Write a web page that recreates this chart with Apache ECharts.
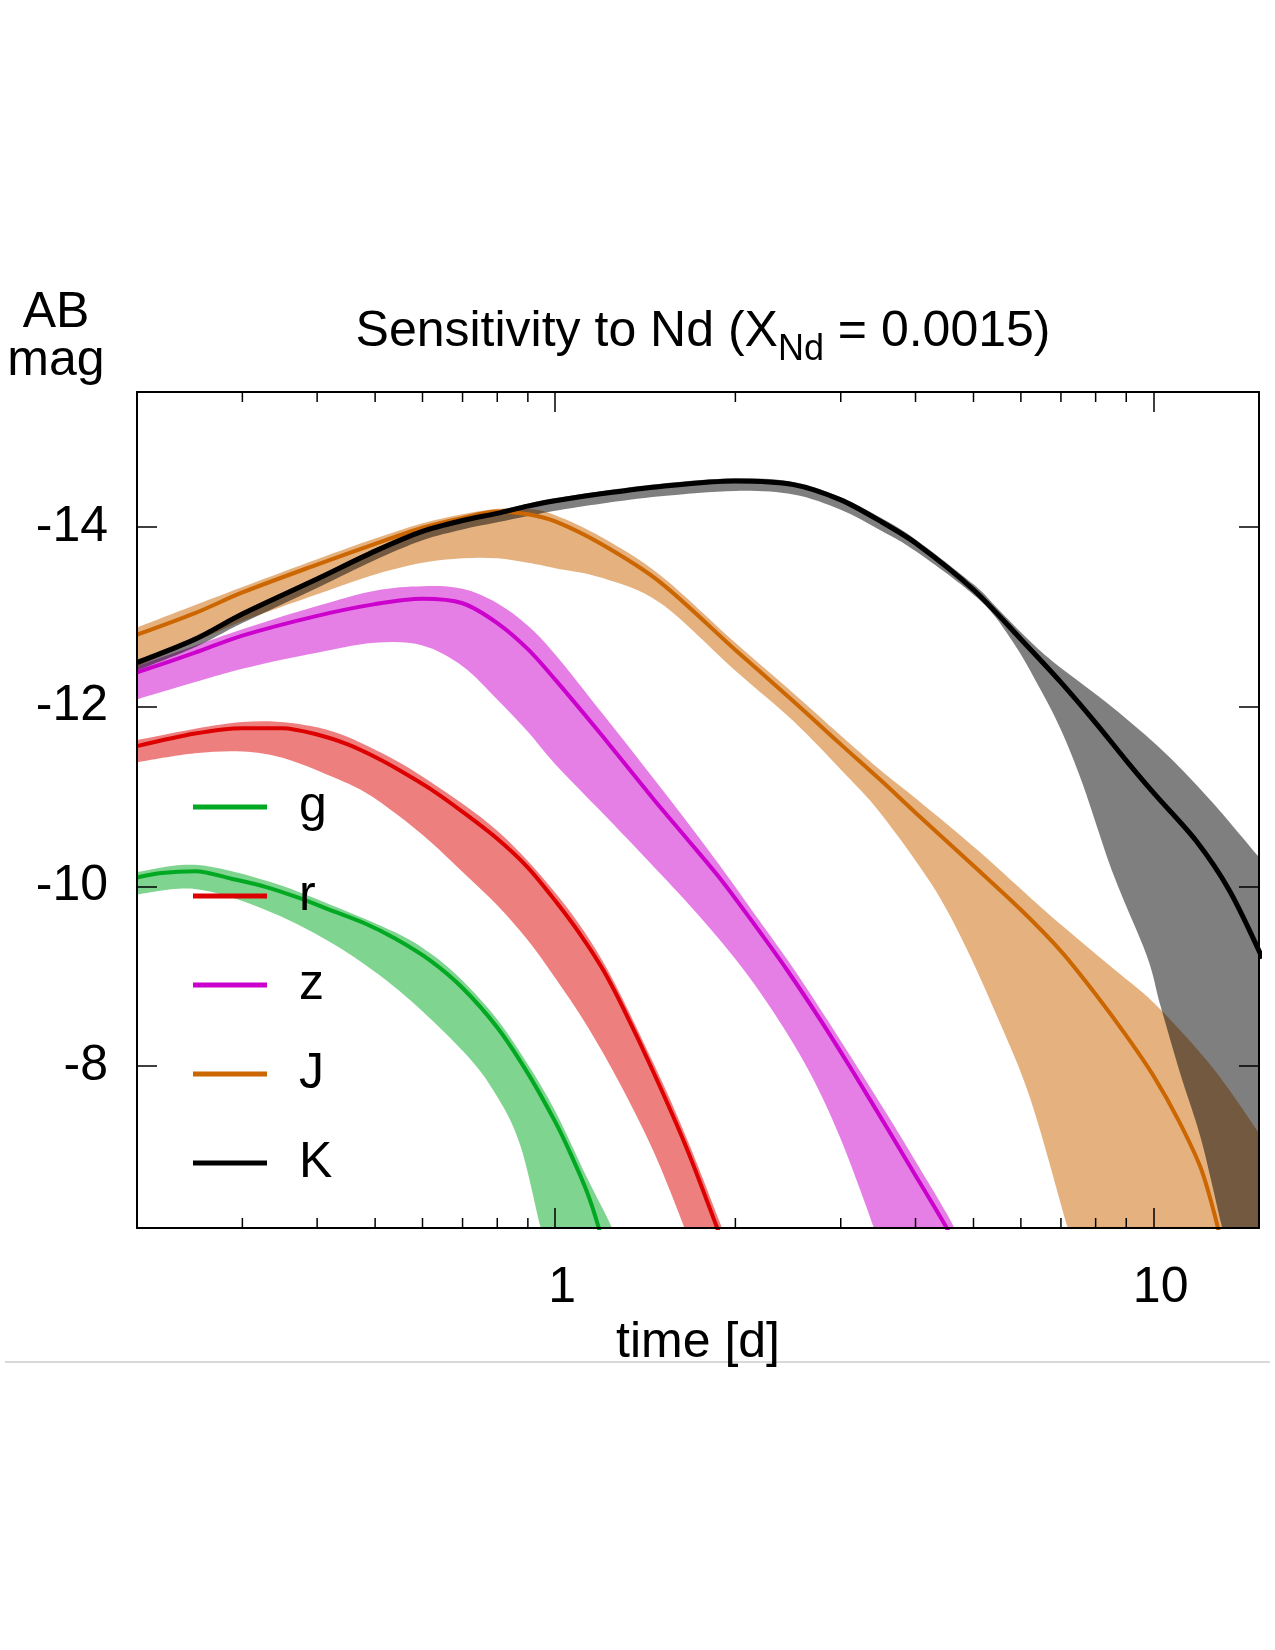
<!DOCTYPE html>
<html>
<head>
<meta charset="utf-8">
<script src="https://cdn.jsdelivr.net/npm/echarts@6/dist/echarts.min.js"></script>
<style>
  html, body { margin: 0; padding: 0; background: #fff; }
  #main { width: 1275px; height: 1650px; }
</style>
</head>
<body>
<div id="main"></div>
<script>
// axis ranges
var T_MIN = 0.2, T_MAX = 15;
var MAG_TOP = -15.5, MAG_BOTTOM = -6.2;
var xLabels = [1, 10];
var minorTicks = [0.3, 0.4, 0.5, 0.6, 0.7, 0.8, 0.9, 2, 3, 4, 5, 6, 7, 8, 9];

// [time (d), AB mag] : mid = model line, hi/lo = edges of the band
var gMid = [[0.2,-10.1],[0.22,-10.15],[0.25,-10.17],[0.29,-10.08],[0.33,-9.99],[0.37,-9.88],[0.42,-9.74],[0.48,-9.59],[0.54,-9.42],[0.62,-9.17],[0.7,-8.87],[0.8,-8.43],[0.9,-7.92],[1.0,-7.38],[1.06,-7.03],[1.13,-6.6],[1.18,-6.22],[1.22,-5.85]];
var gHi = [[0.2,-10.16],[0.25,-10.24],[0.33,-10.06],[0.42,-9.8],[0.54,-9.49],[0.62,-9.25],[0.7,-8.95],[0.8,-8.52],[0.9,-8.02],[1.0,-7.5],[1.13,-6.76],[1.24,-6.22],[1.28,-5.9]];
var gLo = [[0.2,-9.91],[0.25,-9.97],[0.325,-9.75],[0.421,-9.38],[0.544,-8.86],[0.703,-8.16],[0.8,-7.66],[0.874,-7.12],[0.944,-6.22],[0.98,-5.8]];

var rMid = [[0.2,-11.56],[0.25,-11.7],[0.3,-11.76],[0.35,-11.76],[0.4,-11.69],[0.45,-11.58],[0.5,-11.44],[0.55,-11.29],[0.62,-11.08],[0.7,-10.83],[0.8,-10.53],[0.9,-10.21],[1.0,-9.84],[1.1,-9.47],[1.2,-9.08],[1.3,-8.64],[1.46,-7.93],[1.66,-7.08],[1.86,-6.22],[1.95,-5.85]];
var rHi = [[0.2,-11.63],[0.3,-11.83],[0.4,-11.77],[0.5,-11.52],[0.62,-11.16],[0.8,-10.62],[1.0,-9.93],[1.2,-9.17],[1.46,-8.03],[1.66,-7.19],[1.9,-6.2],[2.0,-5.8]];
var rLo = [[0.2,-11.38],[0.25,-11.48],[0.3,-11.5],[0.35,-11.43],[0.42,-11.23],[0.48,-11.05],[0.544,-10.8],[0.618,-10.5],[0.703,-10.15],[0.8,-9.79],[0.9,-9.4],[1.0,-8.98],[1.13,-8.45],[1.284,-7.8],[1.46,-7.05],[1.64,-6.22],[1.75,-5.7]];

var zMid = [[0.2,-12.38],[0.25,-12.6],[0.3,-12.79],[0.4,-13.01],[0.5,-13.14],[0.6,-13.2],[0.7,-13.15],[0.8,-12.93],[0.9,-12.64],[1.0,-12.3],[1.2,-11.67],[1.46,-10.97],[1.66,-10.53],[1.89,-10.08],[2.15,-9.58],[2.44,-9.07],[2.77,-8.52],[3.15,-7.93],[3.58,-7.32],[3.97,-6.82],[4.51,-6.2],[4.7,-5.95]];
var zHi = [[0.2,-12.45],[0.3,-12.86],[0.4,-13.12],[0.5,-13.29],[0.6,-13.34],[0.7,-13.31],[0.8,-13.15],[0.9,-12.9],[1.0,-12.58],[1.2,-11.92],[1.46,-11.2],[1.66,-10.72],[1.89,-10.22],[2.15,-9.7],[2.44,-9.19],[2.77,-8.64],[3.15,-8.06],[3.58,-7.47],[3.97,-6.98],[4.51,-6.36],[4.9,-5.9]];
var zLo = [[0.2,-12.08],[0.3,-12.42],[0.4,-12.6],[0.5,-12.71],[0.6,-12.68],[0.7,-12.45],[0.8,-12.08],[0.9,-11.72],[1.0,-11.36],[1.174,-10.88],[1.423,-10.3],[1.725,-9.7],[2.012,-9.17],[2.317,-8.6],[2.668,-7.92],[2.995,-7.2],[3.4,-6.22],[3.55,-5.8]];

var jMid = [[0.2,-12.8],[0.25,-13.04],[0.3,-13.27],[0.4,-13.58],[0.5,-13.81],[0.6,-13.99],[0.7,-14.1],[0.8,-14.17],[0.9,-14.14],[1.0,-14.06],[1.2,-13.8],[1.5,-13.38],[2.0,-12.63],[2.5,-12.06],[3.0,-11.58],[3.5,-11.18],[4.0,-10.82],[5.0,-10.23],[6.0,-9.74],[7.0,-9.28],[8.0,-8.8],[9.0,-8.34],[10,-7.89],[11,-7.4],[12,-6.86],[12.7,-6.3],[13.2,-5.8]];
var jHi = [[0.2,-12.88],[0.3,-13.33],[0.4,-13.64],[0.5,-13.87],[0.6,-14.04],[0.7,-14.14],[0.8,-14.2],[0.9,-14.2],[1.0,-14.13],[1.2,-13.88],[1.5,-13.46],[2.0,-12.71],[2.5,-12.15],[3.0,-11.68],[3.5,-11.29],[4.02,-10.97],[5.13,-10.38],[6.63,-9.71],[8.58,-9.08],[10.13,-8.67],[12.6,-7.97],[15.2,-7.2]];
var jLo = [[0.2,-12.45],[0.25,-12.72],[0.3,-12.95],[0.4,-13.25],[0.5,-13.47],[0.6,-13.6],[0.7,-13.65],[0.8,-13.65],[0.9,-13.6],[1.0,-13.54],[1.2,-13.43],[1.5,-13.15],[2.0,-12.4],[2.5,-11.84],[3.0,-11.3],[3.49,-10.82],[4.24,-10.04],[4.81,-9.38],[5.47,-8.56],[6.22,-7.64],[7.17,-6.22],[7.5,-5.8]];

var kMid = [[0.2,-12.49],[0.25,-12.75],[0.3,-13.03],[0.4,-13.42],[0.5,-13.73],[0.6,-13.95],[0.7,-14.07],[0.8,-14.15],[0.9,-14.23],[1.0,-14.29],[1.2,-14.37],[1.5,-14.45],[2.0,-14.51],[2.5,-14.47],[3.0,-14.3],[3.5,-14.06],[4.0,-13.82],[5.0,-13.3],[6.0,-12.75],[7.0,-12.27],[8.0,-11.82],[9.0,-11.4],[10,-11.04],[11.8,-10.5],[13.4,-9.95],[15.2,-9.2]];
var kHi = [[0.2,-12.52],[0.25,-12.78],[0.3,-13.06],[0.4,-13.45],[0.5,-13.76],[0.6,-13.98],[0.7,-14.1],[0.8,-14.18],[0.9,-14.26],[1.0,-14.32],[1.2,-14.4],[1.5,-14.48],[2.0,-14.54],[2.5,-14.5],[3.0,-14.33],[3.5,-14.1],[4.0,-13.86],[5.0,-13.36],[5.47,-13.1],[6.1,-12.78],[6.79,-12.5],[8.29,-12.06],[10.2,-11.55],[12.4,-10.97],[15.2,-10.28]];
var kLo = [[0.2,-12.4],[0.25,-12.66],[0.3,-12.93],[0.4,-13.32],[0.5,-13.63],[0.6,-13.85],[0.7,-13.97],[0.8,-14.05],[0.9,-14.12],[1.0,-14.18],[1.2,-14.26],[1.5,-14.34],[2.0,-14.4],[2.5,-14.36],[3.0,-14.19],[3.5,-13.96],[4.0,-13.73],[5.13,-13.18],[5.83,-12.71],[6.47,-12.19],[6.99,-11.75],[7.6,-11.15],[8.58,-10.12],[9.74,-9.23],[10.27,-8.67],[11.1,-7.9],[12.0,-7.19],[13.0,-6.22],[13.5,-5.8]];

var bands = [
  { name: 'g', mid: gMid, hi: gHi, lo: gLo, color: '#00a921', fill: 'rgba(0,169,33,0.5)', width: 4 },
  { name: 'r', mid: rMid, hi: rHi, lo: rLo, color: '#dd0000', fill: 'rgba(221,0,0,0.5)', width: 4 },
  { name: 'z', mid: zMid, hi: zHi, lo: zLo, color: '#cc00cc', fill: 'rgba(204,0,204,0.5)', width: 4 },
  { name: 'J', mid: jMid, hi: jHi, lo: jLo, color: '#cc6600', fill: 'rgba(204,102,0,0.5)', width: 4 },
  { name: 'K', mid: kMid, hi: kHi, lo: kLo, color: '#000000', fill: 'rgba(0,0,0,0.5)', width: 5 }
];

var FONT = 'Liberation Sans, Arial, Helvetica, sans-serif';

// catmull-rom through pixel points, as bezier segments
function smoothPath(p) {
  var s = '';
  for (var i = 0; i < p.length - 1; i++) {
    var p0 = p[i - 1] || p[i], p1 = p[i], p2 = p[i + 1], p3 = p[i + 2] || p2;
    var c1 = [p1[0] + (p2[0] - p0[0]) / 6, p1[1] + (p2[1] - p0[1]) / 6];
    var c2 = [p2[0] - (p3[0] - p1[0]) / 6, p2[1] - (p3[1] - p1[1]) / 6];
    s += 'C' + c1[0] + ',' + c1[1] + ' ' + c2[0] + ',' + c2[1] + ' ' + p2[0] + ',' + p2[1];
  }
  return s;
}

function bandRender(b) {
  return function (params, api) {
    if (params.dataIndex !== 0) return;
    var cs = params.coordSys;
    var top = b.hi.map(function (p) { return api.coord(p); });
    var bot = b.lo.slice().reverse().map(function (p) { return api.coord(p); });
    var last = top[top.length - 1];
    // close the shape below the frame so the cut edge never shows
    var yb = cs.y + cs.height + 80;
    var d = 'M' + top[0][0] + ',' + top[0][1] + smoothPath(top) +
      'L' + last[0] + ',' + yb + 'L' + bot[0][0] + ',' + yb +
      'L' + bot[0][0] + ',' + bot[0][1] + smoothPath(bot) + 'Z';
    return {
      type: 'path',
      shape: { pathData: d },
      style: { fill: b.fill },
      clipPath: { type: 'rect', shape: { x: cs.x, y: cs.y, width: cs.width, height: cs.height } }
    };
  };
}

var series = [];
bands.forEach(function (b) {
  series.push({
    type: 'custom',
    name: b.name + ' band',
    silent: true,
    renderItem: bandRender(b),
    data: [b.hi[0]]
  });
  series.push({
    type: 'line',
    name: b.name,
    data: b.mid,
    smooth: 0.3,
    showSymbol: false,
    silent: true,
    itemStyle: { color: b.color },
    lineStyle: { color: b.color, width: b.width }
  });
});

// minor ticks of the log axis, bottom and top, pointing inward
series.push({
  type: 'custom',
  name: 'minor ticks',
  silent: true,
  z: 6,
  renderItem: function (params, api) {
    var cs = params.coordSys;
    var x = api.coord([api.value(0), MAG_BOTTOM])[0];
    var st = { stroke: '#000', lineWidth: 1.5 };
    return {
      type: 'group',
      children: [
        { type: 'line', shape: { x1: x, y1: cs.y + cs.height, x2: x, y2: cs.y + cs.height - 10 }, style: st },
        { type: 'line', shape: { x1: x, y1: cs.y, x2: x, y2: cs.y + 10 }, style: st }
      ]
    };
  },
  data: minorTicks.map(function (t) { return [t, MAG_BOTTOM]; })
});

function xAxisOf(pos, labels) {
  return {
    type: 'log',
    logBase: 10,
    min: T_MIN,
    max: T_MAX,
    position: pos,
    z: 6,
    axisLine: { show: true, onZero: false, lineStyle: { color: '#000', width: 2 } },
    axisTick: { show: true, inside: true, length: 20, lineStyle: { color: '#000', width: 1.5 } },
    splitLine: { show: false },
    minorTick: { show: false },
    axisLabel: {
      show: labels,
      margin: 35,
      padding: [0, 0, 0, 14],
      fontSize: 50,
      color: '#000',
      fontFamily: FONT,
      formatter: function (v) {
        for (var i = 0; i < xLabels.length; i++) {
          if (Math.abs(v - xLabels[i]) < 1e-6 * xLabels[i]) return String(xLabels[i]);
        }
        return '';
      }
    },
    name: labels ? 'time [d]' : '',
    nameLocation: 'middle',
    nameGap: 80,
    nameTextStyle: { fontSize: 50, color: '#000', fontFamily: FONT }
  };
}

function yAxisOf(pos, labels) {
  return {
    type: 'value',
    inverse: true,
    min: MAG_TOP,
    max: MAG_BOTTOM,
    splitNumber: 5,
    position: pos,
    z: 6,
    axisLine: { show: true, onZero: false, lineStyle: { color: '#000', width: 2 } },
    axisTick: { show: true, inside: true, length: 20, lineStyle: { color: '#000', width: 1.5 } },
    splitLine: { show: false },
    axisLabel: {
      show: labels,
      margin: 29,
      fontSize: 50,
      color: '#000',
      fontFamily: FONT,
      showMinLabel: false,
      showMaxLabel: false,
      formatter: function (v) {
        return Math.abs(v % 2) < 1e-9 ? String(v) : '';
      }
    }
  };
}

var chart = echarts.init(document.getElementById('main'));
chart.setOption({
  animation: false,
  backgroundColor: '#fff',
  title: {
    text: '{m|Sensitivity to Nd (X}{s|Nd}{m| = 0.0015)}',
    left: 698,
    top: 291,
    textAlign: 'center',
    textStyle: {
      fontWeight: 'normal',
      rich: {
        m: { fontSize: 50, fontWeight: 'normal', color: '#000', fontFamily: FONT },
        s: { fontSize: 36, fontWeight: 'normal', color: '#000', fontFamily: FONT, padding: [36, 0, 0, 0] }
      }
    }
  },
  legend: {
    orient: 'vertical',
    left: 193,
    top: 782,
    padding: 0,
    itemWidth: 74,
    itemHeight: 5,
    itemGap: 39,
    icon: 'rect',
    selectedMode: false,
    data: ['g', 'r', 'z', 'J', 'K'],
    textStyle: { fontSize: 50, lineHeight: 50, color: '#000', fontFamily: FONT, padding: [0, 0, 0, 27] }
  },
  grid: { left: 137, right: 16, top: 392, bottom: 422, containLabel: false },
  xAxis: [xAxisOf('bottom', true), xAxisOf('top', false)],
  yAxis: [yAxisOf('left', true), yAxisOf('right', false)],
  graphic: [
    {
      type: 'text',
      x: 56,
      y: 289,
      style: { text: 'AB\nmag', fontSize: 50, fontFamily: FONT, fill: '#000', align: 'center', lineHeight: 48 }
    },
    {
      type: 'line',
      shape: { x1: 5, y1: 1362, x2: 1270, y2: 1362 },
      style: { stroke: '#cccccc', lineWidth: 1.5 }
    }
  ],
  series: series
});
</script>
</body>
</html>
